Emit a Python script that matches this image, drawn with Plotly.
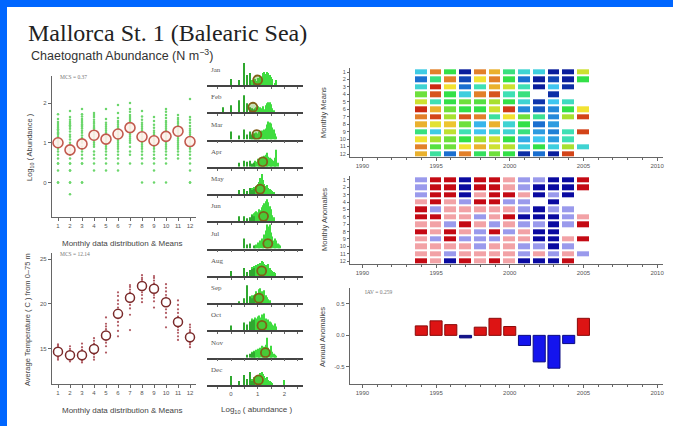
import plotly.graph_objects as go

W, H = 673, 426

# ---------------- data ----------------
MONTHS = list(range(1, 13))
MONTH_NAMES = ["Jan", "Feb", "Mar", "Apr", "May", "Jun", "Jul", "Aug", "Sep", "Oct", "Nov", "Dec"]

ABUND_MEAN = [1.00, 0.82, 0.97, 1.19, 1.09, 1.22, 1.38, 1.15, 1.05, 1.16, 1.29, 1.03]
TEMP_MEAN = [14.7, 14.3, 14.3, 15.0, 16.5, 18.9, 20.7, 22.0, 21.7, 20.2, 18.0, 16.3]

ABUND_OBS = [
    [0.0, 0.0, 0.3, 0.48, 0.48, 0.6, 0.7, 0.78, 0.85, 0.9, 0.95, 1.0, 1.04, 1.08, 1.11, 1.15, 1.2, 1.23, 1.26, 1.3, 1.34, 1.38, 1.42, 1.47, 1.52, 1.6, 1.72],
    [-0.3, 0.0, 0.0, 0.3, 0.3, 0.48, 0.48, 0.6, 0.7, 0.78, 0.85, 0.95, 1.0, 1.08, 1.15, 1.2, 1.28, 1.35, 1.4, 1.44, 1.48, 1.52, 1.58, 1.65, 1.8],
    [0.0, 0.0, 0.48, 0.48, 0.6, 0.7, 0.78, 0.85, 0.9, 1.0, 1.05, 1.12, 1.18, 1.25, 1.3, 1.36, 1.4, 1.43, 1.46, 1.5, 1.55, 1.6, 1.66, 1.72, 1.85],
    [0.3, 0.48, 0.6, 0.7, 0.78, 0.9, 0.95, 1.0, 1.05, 1.1, 1.15, 1.2, 1.25, 1.3, 1.35, 1.38, 1.42, 1.48, 1.52, 1.58, 1.65, 1.7, 1.75],
    [0.3, 0.48, 0.6, 0.7, 0.78, 0.85, 0.9, 0.95, 1.0, 1.05, 1.1, 1.13, 1.16, 1.18, 1.2, 1.25, 1.3, 1.35, 1.4, 1.45, 1.5, 1.6, 1.85],
    [0.3, 0.48, 0.6, 0.7, 0.78, 0.85, 0.9, 0.95, 1.0, 1.05, 1.1, 1.15, 1.2, 1.25, 1.3, 1.33, 1.36, 1.4, 1.45, 1.5, 1.55, 1.62, 1.75, 1.95],
    [0.48, 0.7, 0.78, 0.9, 1.0, 1.05, 1.1, 1.15, 1.2, 1.25, 1.3, 1.35, 1.38, 1.4, 1.43, 1.46, 1.5, 1.55, 1.6, 1.65, 1.7, 1.78, 1.85, 2.0],
    [0.0, 0.48, 0.6, 0.7, 0.78, 0.85, 0.9, 0.95, 1.0, 1.05, 1.1, 1.15, 1.2, 1.25, 1.3, 1.35, 1.4, 1.45, 1.5, 1.58, 1.66, 1.8],
    [0.0, 0.3, 0.48, 0.6, 0.6, 0.7, 0.78, 0.85, 0.9, 0.95, 1.0, 1.05, 1.1, 1.15, 1.2, 1.25, 1.3, 1.38, 1.45, 1.55, 1.65],
    [0.0, 0.48, 0.6, 0.7, 0.78, 0.85, 0.9, 0.95, 1.0, 1.05, 1.1, 1.15, 1.2, 1.25, 1.3, 1.35, 1.4, 1.45, 1.5, 1.55, 1.62, 1.7, 1.78, 1.85],
    [0.6, 0.7, 0.78, 0.85, 0.9, 0.95, 1.0, 1.05, 1.1, 1.15, 1.2, 1.25, 1.3, 1.35, 1.38, 1.42, 1.48, 1.52, 1.58, 1.62, 1.7],
    [0.0, 0.0, 0.3, 0.48, 0.6, 0.7, 0.78, 0.85, 0.9, 0.95, 1.0, 1.05, 1.1, 1.15, 1.2, 1.25, 1.3, 1.35, 1.42, 1.5, 1.58, 1.65, 2.1],
]

TEMP_OBS = [
    [13.8, 14.0, 14.2, 14.3, 14.5, 14.6, 14.7, 14.8, 14.9, 15.0, 15.1, 15.2, 15.4, 15.5],
    [13.6, 13.8, 13.9, 14.0, 14.1, 14.3, 14.4, 14.5, 14.6, 14.8, 15.0, 15.3],
    [13.5, 13.7, 13.8, 14.0, 14.1, 14.2, 14.4, 14.5, 14.7, 14.9, 15.2, 15.6],
    [13.8, 14.1, 14.4, 14.6, 14.8, 15.0, 15.2, 15.4, 15.6, 15.9, 16.2],
    [14.6, 15.3, 15.7, 16.0, 16.3, 16.5, 16.7, 16.9, 17.2, 17.5, 17.8, 18.5],
    [16.4, 17.0, 17.6, 18.0, 18.4, 18.7, 19.0, 19.3, 19.6, 20.0, 20.4, 20.9, 21.3],
    [17.1, 18.8, 19.5, 19.9, 20.2, 20.5, 20.8, 21.0, 21.3, 21.6, 21.9, 22.1],
    [20.2, 20.6, 21.0, 21.3, 21.6, 21.9, 22.1, 22.3, 22.5, 22.7, 22.9, 23.2],
    [19.6, 20.3, 20.7, 21.0, 21.3, 21.6, 21.8, 22.0, 22.3, 22.6, 22.9, 23.1],
    [17.4, 18.5, 19.0, 19.4, 19.8, 20.1, 20.4, 20.7, 21.0, 21.4, 21.8, 22.2],
    [16.0, 16.4, 16.8, 17.1, 17.4, 17.7, 18.0, 18.3, 18.6, 19.0, 19.4, 19.9, 20.4],
    [15.2, 15.5, 15.7, 15.9, 16.1, 16.3, 16.5, 16.7, 16.9, 17.1, 17.4, 17.7],
]

# histogram spikes (discrete low counts) and binned part, heights in counts
SPIKE_X = [-0.3, 0.0, 0.3, 0.48, 0.6, 0.7, 0.78, 0.85]
SPIKE_H = [
    [0, 6, 5, 22, 10, 12, 0, 4],
    [5, 7, 12, 17, 9, 5, 4, 3],
    [0, 8, 4, 10, 5, 8, 4, 6],
    [0, 0, 4, 6, 5, 6, 3, 4],
    [0, 0, 4, 5, 3, 6, 4, 5],
    [0, 0, 5, 5, 3, 4, 6, 5],
    [0, 0, 0, 10, 4, 5, 0, 3],
    [0, 5, 0, 8, 4, 6, 7, 8],
    [0, 0, 2, 5, 18, 7, 5, 8],
    [0, 5, 0, 8, 6, 9, 10, 11],
    [0, 0, 0, 0, 3, 4, 5, 6],
    [0, 9, 4, 10, 6, 13, 4, 5],
]
BLOCK_X = [0.80, 0.85, 0.90, 0.95, 1.00, 1.05, 1.10, 1.15, 1.20, 1.25, 1.30, 1.35, 1.40,
           1.45, 1.50, 1.55, 1.60, 1.65, 1.70, 1.75, 1.80, 1.85, 1.90, 1.95, 2.00, 2.05]
BLOCK_H = [
    [5, 3, 6, 4, 7, 5, 9, 8, 12, 13, 11, 13, 12, 10, 8, 6, 0, 2, 5, 0, 0, 0, 0, 0, 0, 0],
    [3, 2, 4, 5, 6, 3, 5, 4, 6, 3, 7, 9, 10, 10, 8, 4, 2, 0, 0, 0, 0, 0, 0, 0, 0, 0],
    [5, 6, 4, 7, 6, 8, 7, 9, 8, 10, 11, 15, 18, 17, 16, 12, 10, 6, 3, 0, 0, 0, 0, 0, 0, 0],
    [3, 4, 6, 5, 8, 7, 9, 10, 8, 11, 12, 14, 10, 9, 8, 7, 6, 9, 17, 4, 0, 0, 0, 0, 0, 0],
    [6, 7, 5, 8, 10, 12, 16, 20, 14, 10, 8, 9, 6, 5, 4, 3, 2, 0, 0, 0, 0, 0, 0, 0, 0, 0],
    [7, 8, 9, 10, 9, 12, 11, 14, 16, 18, 20, 22, 19, 15, 12, 6, 4, 0, 0, 0, 0, 0, 0, 0, 0, 0],
    [0, 0, 3, 4, 6, 5, 8, 10, 9, 14, 18, 24, 22, 24, 16, 12, 8, 10, 8, 5, 4, 3, 0, 0, 0, 0],
    [9, 10, 8, 11, 12, 10, 13, 15, 14, 12, 11, 9, 12, 8, 6, 5, 4, 3, 0, 0, 0, 0, 0, 0, 0, 0],
    [8, 6, 9, 12, 10, 14, 15, 12, 10, 13, 8, 6, 4, 3, 0, 0, 0, 0, 0, 0, 0, 0, 0, 0, 0, 0],
    [12, 10, 13, 12, 14, 15, 13, 16, 14, 17, 12, 10, 11, 9, 8, 6, 5, 7, 4, 0, 0, 0, 0, 0, 0, 0],
    [6, 7, 5, 8, 9, 8, 10, 12, 9, 11, 13, 20, 10, 8, 12, 6, 4, 3, 2, 0, 0, 0, 0, 0, 0, 0],
    [6, 8, 5, 9, 10, 8, 12, 13, 11, 9, 7, 8, 5, 4, 3, 2, 0, 0, 0, 0, 0, 0, 0, 0, 5, 0],
]

YEARS = list(range(1994, 2006))
N = None
# Monthly means colour index (1 = low/dark blue ... 9 = high/red), rows = months 1..12
MEANS_GRID = [
    [3.2, 8, 5, 1, 8, 7.5, 4.5, 3.5, 3.3, 1, 1, 6.5],
    [2, 4.5, 8, 1.5, 7, 8, 5, 2, 1, 1.5, 1, 5],
    [3.5, 9, 7, 2, 4, 7.5, 6.5, 4, 1, 3, 1.2, N],
    [5.5, 8.5, 5, 3.3, 8, 8.5, 4, 4.5, N, 1.2, N, N],
    [6.5, 4, 5, 5.5, 5.3, 6, 5, 3.5, 1.3, 3, 3.8, N],
    [9, 7.5, 5.5, 5, 5, 6.5, 8.8, 2.3, 1.7, 2.3, 5, 7],
    [8, 8.7, 6, 8.5, 8, 4.2, 7, 5.5, 4.3, 2.3, 6, 8.7],
    [7.5, 6.8, 7.3, 5.5, 2.8, 7.5, 3.5, 5, 2, 2.5, N, N],
    [4.5, 3.2, 6.3, 4, 3, 3.5, 3.5, 4.5, 2.5, 2.2, 4, 8.7],
    [7, 6, 5.5, 5, 6, 6.5, 5, 2.7, 3, 2.5, 4, N],
    [8, 5.3, 5.5, 7, 7.5, 6.5, 6.2, 3.3, 5, 3.3, 6, 3.5],
    [7.5, 4.2, 2, 8, 4.8, 5.5, 5, 1.2, 2, 1, 8.7, N],
]
# Monthly anomaly class: -2 strong negative, -1 negative, 1 positive, 2 strong positive
ANOM_GRID = [
    [-1, 2, 2, -2, 2, 2, 1, -1, -1, -2, -2, 2],
    [-1, 2, 2, -2, 2, 2, 1, -1, -2, -2, -2, 2],
    [-1, 2, 2, -2, 1, 2, 2, 1, -2, -1, -2, N],
    [1, 2, 1, -1, 2, 2, -1, -1, N, -2, N, N],
    [2, -1, 1, 1, 1, 1, 1, -1, -2, -1, -1, N],
    [2, 2, 1, 1, -1, 1, 2, -2, -2, -2, -1, 1],
    [1, 1, -1, 2, 1, -1, 1, -1, -1, -2, -1, 2],
    [2, 1, 2, 1, -1, 2, -1, 1, -2, -2, N, N],
    [1, -1, 2, -1, -1, -1, 1, 1, -2, -2, 1, 2],
    [1, 1, 1, 1, -1, 1, 1, -1, -1, -2, -1, N],
    [1, 1, -1, 1, 1, 1, 1, -1, 1, -1, 1, -1],
    [2, 1, -2, 2, 1, 2, 1, -2, -2, -2, 2, N],
]
ANNUAL_ANOM = [0.15, 0.23, 0.17, -0.04, 0.13, 0.27, 0.14, -0.16, -0.42, -0.52, -0.13, 0.27]

YEAR_TICKS = [1990, 1995, 2000, 2005, 2010]

# ---------------- helpers ----------------
def fx(px):
    return px / W


def fy(py):
    return 1 - py / H


AX = "#666666"
SANS = "Liberation Sans, Arial"
SERIF = "Liberation Serif, Times New Roman"
TICKF = dict(family=SANS, size=6, color="#555555")

fig = go.Figure()
layout = {}


def axis_common(**kw):
    d = dict(showgrid=False, zeroline=False, showline=True, linecolor=AX, linewidth=1.3,
             ticks="outside", ticklen=3, tickcolor=AX, tickwidth=1, tickfont=TICKF)
    d.update(kw)
    return d


# ---------- Panel A: abundance ----------
for i, m in enumerate(MONTHS):
    fig.add_trace(go.Scatter(x=[m] * len(ABUND_OBS[i]), y=ABUND_OBS[i], mode="markers",
                             marker=dict(size=2.5, color="#6CD66C"), xaxis="x", yaxis="y",
                             showlegend=False, hoverinfo="skip"))
fig.add_trace(go.Scatter(x=MONTHS, y=ABUND_MEAN, mode="markers",
                         marker=dict(size=10, color="rgba(255,240,235,0.9)",
                                     line=dict(color="#C25A4E", width=1.6)),
                         xaxis="x", yaxis="y", showlegend=False))
layout["xaxis"] = axis_common(domain=[fx(52), fx(196)], range=[0.5, 12.5], anchor="y",
                              tickvals=MONTHS)
layout["yaxis"] = axis_common(domain=[fy(217), fy(76)], range=[-0.87, 2.68], anchor="x",
                              tickvals=[0, 1, 2])

# ---------- Panel B: temperature ----------
for i, m in enumerate(MONTHS):
    fig.add_trace(go.Scatter(x=[m] * len(TEMP_OBS[i]), y=TEMP_OBS[i], mode="markers",
                             marker=dict(size=2.2, color="#B05A62"), xaxis="x2", yaxis="y2",
                             showlegend=False, hoverinfo="skip"))
fig.add_trace(go.Scatter(x=MONTHS, y=TEMP_MEAN, mode="markers",
                         marker=dict(size=9, color="white", line=dict(color="#7A2A2A", width=1.5)),
                         xaxis="x2", yaxis="y2", showlegend=False))
layout["xaxis2"] = axis_common(domain=[fx(52), fx(196)], range=[0.5, 12.5], anchor="y2",
                               tickvals=MONTHS)
layout["yaxis2"] = axis_common(domain=[fy(384), fy(253)], range=[11.1, 25.67], anchor="x2",
                               tickvals=[15, 20, 25])

# ---------- Middle: monthly histograms ----------
BASE0, STEP, PH = 85.0, 27.27, 27.27
annotations = []
for i in range(12):
    xa = "x%d" % (3 + i)
    ya = "y%d" % (3 + i)
    base = BASE0 + STEP * i
    fig.add_trace(go.Bar(x=BLOCK_X, y=BLOCK_H[i], width=0.05, marker=dict(color="#3FDC3F", line=dict(width=0)),
                         xaxis=xa, yaxis=ya, showlegend=False, hoverinfo="skip"))
    fig.add_trace(go.Bar(x=SPIKE_X, y=SPIKE_H[i], width=0.03, marker=dict(color="#2FA82F", line=dict(width=0)),
                         xaxis=xa, yaxis=ya, showlegend=False, hoverinfo="skip"))
    fig.add_trace(go.Scatter(x=[ABUND_MEAN[i]], y=[5], mode="markers",
                             marker=dict(size=9, color="rgba(90,170,40,0.35)",
                                         line=dict(color="#806018", width=1.8)),
                             xaxis=xa, yaxis=ya, showlegend=False))
    last = i == 11
    layout["xaxis%d" % (3 + i)] = axis_common(
        domain=[fx(207), fx(303)], range=[-0.9, 2.7], anchor=ya, linecolor="#444444", linewidth=1.5,
        tickvals=[0, 1, 2], showticklabels=last, ticklen=2,
        minor=dict(tickvals=[-0.5, 0.5, 1.5, 2.5], ticks="outside", ticklen=2, tickcolor=AX))
    layout["yaxis%d" % (3 + i)] = dict(domain=[fy(base), fy(base - PH)], range=[0, PH],
                                       anchor=xa, visible=False)
    annotations.append(dict(x=fx(209), y=fy(base - 15), xref="paper", yref="paper",
                            text=MONTH_NAMES[i], showarrow=False, xanchor="left", yanchor="middle",
                            font=dict(family=SERIF, size=7, color="#555555")))

# ---------- Right: monthly means heatmap ----------
JET = [[0.0, "#0A1E9C"], [0.125, "#1A6FD0"], [0.25, "#3FC6F0"], [0.375, "#3FE0B4"],
       [0.5, "#33E048"], [0.625, "#A8E030"], [0.75, "#F2E232"], [0.875, "#E2802A"], [1.0, "#CC2A12"]]
fig.add_trace(go.Heatmap(z=MEANS_GRID, x=YEARS, y=MONTHS, colorscale=JET, zmin=1, zmax=9,
                         xgap=3, ygap=2, showscale=False, xaxis="x15", yaxis="y15", hoverongaps=False))
ANOMC = [[0.0, "#0A0AA0"], [0.2, "#0A0AA0"], [0.2, "#9A9AEC"], [0.5, "#9A9AEC"],
         [0.5, "#F2A2A6"], [0.8, "#F2A2A6"], [0.8, "#C40A14"], [1.0, "#C40A14"]]
fig.add_trace(go.Heatmap(z=ANOM_GRID, x=YEARS, y=MONTHS, colorscale=ANOMC, zmin=-2, zmax=2,
                         xgap=3, ygap=2, showscale=False, xaxis="x16", yaxis="y16", hoverongaps=False))

XR = [1989.16, 2010.4]
for k, (top, bot, rr) in {15: (68, 157, [12.4, 0.46]), 16: (176, 264, [12.4, 0.46])}.items():
    layout["xaxis%d" % k] = axis_common(domain=[fx(350), fx(663)], range=XR, anchor="y%d" % k,
                                        tickvals=YEAR_TICKS, ticklen=3,
                                        minor=dict(dtick=1, ticks="outside", ticklen=2, tickcolor=AX))
    layout["yaxis%d" % k] = axis_common(domain=[fy(bot), fy(top)], range=rr, anchor="x%d" % k,
                                        tickvals=MONTHS, ticklen=2,
                                        tickfont=dict(family=SANS, size=5.5, color="#555555"))

# ---------- Right: annual anomalies ----------
bar_cols = ["#DD1414" if v > 0 else "#1414EE" for v in ANNUAL_ANOM]
bar_cols[3] = "#14148C"
line_cols = ["#8A0A0A" if v > 0 else "#0A0A80" for v in ANNUAL_ANOM]
fig.add_trace(go.Bar(x=YEARS, y=ANNUAL_ANOM, width=0.82,
                     marker=dict(color=bar_cols, line=dict(color=line_cols, width=1)),
                     xaxis="x17", yaxis="y17", showlegend=False))
layout["xaxis17"] = axis_common(domain=[fx(350), fx(663)], range=XR, anchor="y17",
                                tickvals=YEAR_TICKS,
                                minor=dict(dtick=1, ticks="outside", ticklen=2, tickcolor=AX))
layout["yaxis17"] = axis_common(domain=[fy(384), fy(288)], range=[-0.77, 0.75], anchor="x17",
                                tickvals=[-0.5, 0.0, 0.5], ticktext=["-0.5", "0.0", "0.5"])


# ---------- text ----------
def txt(x, y, s, size, family=SANS, color="#444444", angle=0, xanchor="center"):
    annotations.append(dict(x=fx(x), y=fy(y), xref="paper", yref="paper", text=s, showarrow=False,
                            textangle=angle, xanchor=xanchor, yanchor="middle",
                            font=dict(family=family, size=size, color=color)))


txt(26, 33, "Mallorca St. 1 (Balearic Sea)", 24, family=SERIF, color="#222222", xanchor="left")
txt(29, 55, "Chaetognath Abundance (N m<sup>−3</sup>)", 12.5, color="#333333", xanchor="left")
txt(58, 77, "MCS = 0.37", 5.5, family=SERIF, color="#777777", xanchor="left")
txt(58, 254, "MCS = 12.14", 5.5, family=SERIF, color="#777777", xanchor="left")
txt(363, 292, "IAV = 0.259", 5.5, family=SERIF, color="#777777", xanchor="left")
txt(30, 147, "Log<sub>10</sub> ( Abundance )", 7.5, angle=-90)
txt(27, 320, "Average Temperature ( C ) from 0–75 m", 7.5, angle=-90)
txt(123, 243, "Monthly data distribution &amp; Means", 8)
txt(123, 410, "Monthly data distribution &amp; Means", 8)
txt(257, 410, "Log<sub>10</sub> ( abundance )", 8)
txt(324, 113, "Monthly Means", 7.5, angle=-90)
txt(324, 220, "Monthly Anomalies", 7.5, angle=-90)
txt(322, 337, "Annual Anomalies", 7.5, angle=-90)

# slide frame (blue band along the top and left edge)
shapes = [
    dict(type="rect", xref="paper", yref="paper", x0=-0.01, x1=1.01, y0=fy(7), y1=1.01,
         fillcolor="#0066FF", line=dict(width=0), layer="above"),
    dict(type="rect", xref="paper", yref="paper", x0=-0.01, x1=fx(7), y0=-0.01, y1=1.01,
         fillcolor="#0066FF", line=dict(width=0), layer="above"),
]

fig.update_layout(width=W, height=H, margin=dict(l=0, r=0, t=0, b=0), paper_bgcolor="white",
                  plot_bgcolor="white", barmode="overlay", showlegend=False,
                  annotations=annotations, shapes=shapes, **layout)
fig.write_html("out.html", config={"displayModeBar": False},
               post_script="document.body.style.margin='0';")
